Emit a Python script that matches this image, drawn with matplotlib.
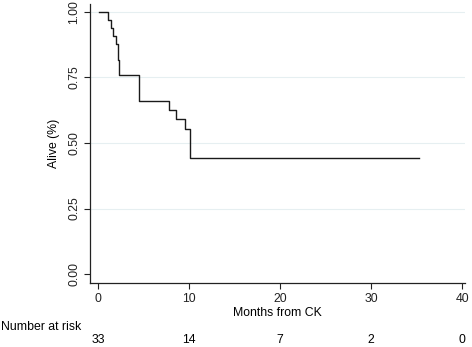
import matplotlib
matplotlib.use("Agg")
import matplotlib.pyplot as plt

# Kaplan-Meier step data (months, survival)
times = [0.1, 1.1, 1.4, 1.7, 2.0, 2.15, 2.35, 4.5, 7.8, 8.6, 9.5, 10.1, 35.2]
surv = [1.0, 0.970, 0.939, 0.909, 0.879, 0.818, 0.758, 0.661, 0.626, 0.592, 0.552, 0.444, 0.444]

xticks = [0, 10, 20, 30, 40]
yticks = [0.00, 0.25, 0.50, 0.75, 1.00]
risk_counts = ["33", "14", "7", "2", "0"]

FS = 8.8
plt.rcParams['font.family'] = ['Liberation Sans', 'DejaVu Sans']
fig = plt.figure(figsize=(4.72, 3.47), dpi=100)
ax = fig.add_axes([90/472, 1 - 283/347, (465-90)/472, (283-4)/347])

ax.step(times, surv, where='post', color='#1a1a1a', lw=1.0)

ax.set_xlim(-0.88, 40.3)
ax.set_ylim(-0.034, 1.03)
ax.set_xticks(xticks)
ax.set_xticklabels([str(t) for t in xticks], fontsize=FS)
ax.set_yticks(yticks)
ax.set_yticklabels(["%.2f" % v for v in yticks], fontsize=FS, rotation=90, va='center')
for v in yticks[1:]:
    ax.axhline(v, color='#e6eff1', lw=0.8, zorder=0)

for s in ['top', 'right']:
    ax.spines[s].set_visible(False)
for s in ['left', 'bottom']:
    ax.spines[s].set_color('#222222')
    ax.spines[s].set_linewidth(0.9)
ax.tick_params(axis='both', colors='#222222', length=4, width=0.8, pad=3)
ax.tick_params(axis='y', pad=3)

ax.set_xlabel("Months from CK", fontsize=FS, labelpad=2)
ax.set_ylabel("Alive (%)", fontsize=FS, labelpad=6)

fig.text(1/472, 1 - 327/347, "Number at risk", fontsize=FS, va='center', ha='left')
for t, c in zip(xticks, risk_counts):
    xf = ax.transData.transform((t, 0))[0] / fig.bbox.width
    fig.text(xf, 1 - 340/347, c, fontsize=FS, va='center', ha='center')

fig.savefig("out.png", dpi=100)
